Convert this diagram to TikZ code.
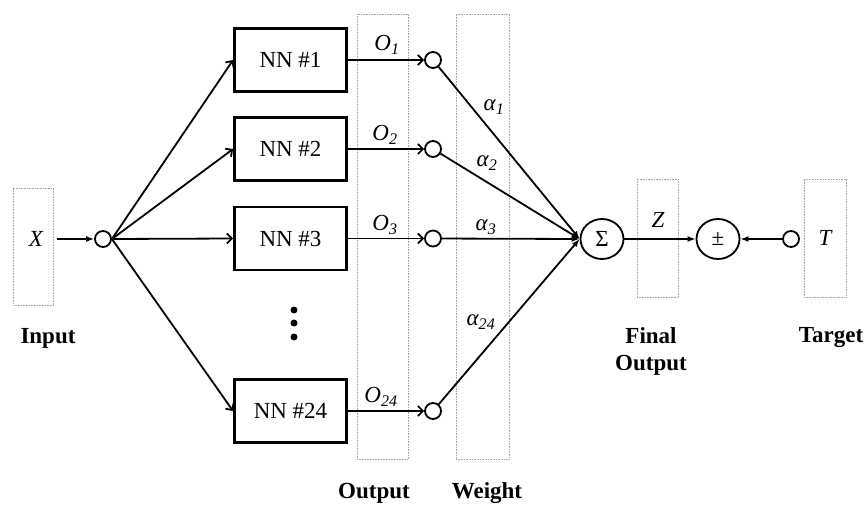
\documentclass[tikz,border=0pt]{standalone}
\usepackage{fontspec}
\setmainfont{Liberation Serif}
\usetikzlibrary{arrows.meta,shapes.geometric}
\begin{document}
\begin{tikzpicture}[x=1pt, y=-1pt, line width=1.8pt,
    every node/.style={font=\fontsize{23}{26}\selectfont},
    nn/.style={rectangle, draw, line width=2.8pt, minimum width=112pt, minimum height=63pt},
    dot/.style={circle, draw, line width=1.8pt, minimum size=16pt, inner sep=0pt},
    sum/.style={ellipse, draw, line width=1.8pt, minimum width=43pt, minimum height=40pt, inner sep=0pt},
    frame/.style={rectangle, draw=gray!70, densely dotted, line width=0.6pt},
    lab/.style={font=\fontsize{23}{27}\selectfont\bfseries, align=center},
    >={Straight Barb[length=5pt,width=10pt]}]
\useasboundingbox (0,0) rectangle (866,505);
% dotted frames
\node[frame, minimum width=40pt, minimum height=117pt] (fx) at (33,246.5) {};
\node[frame, minimum width=51pt, minimum height=445pt] (fo) at (382.5,236.5) {};
\node[frame, minimum width=53pt, minimum height=445pt] (fw) at (482.5,236.5) {};
\node[frame, minimum width=41pt, minimum height=118pt] (fz) at (657.5,238) {};
\node[frame, minimum width=42pt, minimum height=118pt] (ft) at (825,238) {};
% input
\node (x) at (36,239) {\itshape X};
\node[dot] (in) at (103,239) {};
\draw[-{Latex[length=8pt,width=6pt]}, shorten <=10pt] (x) -- (in);
% sum and target
\node[sum] (sig) at (602,239) {Σ};
\node[sum] (pm) at (718,239) {±};
\node (z) at (658,220) {\itshape Z};
\node[dot] (t) at (791,239) {};
\node (tt) at (825,238) {\itshape T};
\draw[-{Latex[length=8pt,width=6pt]}] (sig) -- (pm);
\draw[-{Latex[length=8pt,width=6pt]}] (t) -- (pm);
% networks
\foreach \i/\y/\n in {1/60/1, 2/149/2, 3/238.5/3, 4/411/24} {
    \node[nn] (nn\i) at (290.5,\y) {NN \#\n};
    \node[dot] (o\i) at (433,\y) {};
    \draw[->] (in.east) -- (nn\i.west);
    \draw[->] (nn\i) -- (o\i);
    \draw[-{Latex[length=8pt,width=6pt]}] (o\i) -- (sig.west);
}
\foreach \i/\y in {1/310, 2/323, 3/337}
    \node[circle, fill, inner sep=0pt, minimum size=7pt] (d\i) at (294,\y) {};
% labels
\foreach \i/\n/\x/\y in {1/1/387/45, 2/2/385/135, 3/3/385/225, 4/24/381/397}
    \node (lo\i) at (\x,\y) {\itshape O\textsubscript{\n}};
\foreach \i/\n/\x/\y in {1/1/494/107, 2/2/487/163, 3/3/486/227, 4/24/481/322}
    \node (la\i) at (\x,\y) {\itshape α\textsubscript{\n}};
\node[lab] (linput) at (48,338) {Input};
\node[lab] (loutput) at (374,493) {Output};
\node[lab] (lweight) at (487,493) {Weight};
\node[lab] (lfinal) at (651,351) {Final\\Output};
\node[lab] (ltarget) at (831,338) {Target};
\end{tikzpicture}
\end{document}
